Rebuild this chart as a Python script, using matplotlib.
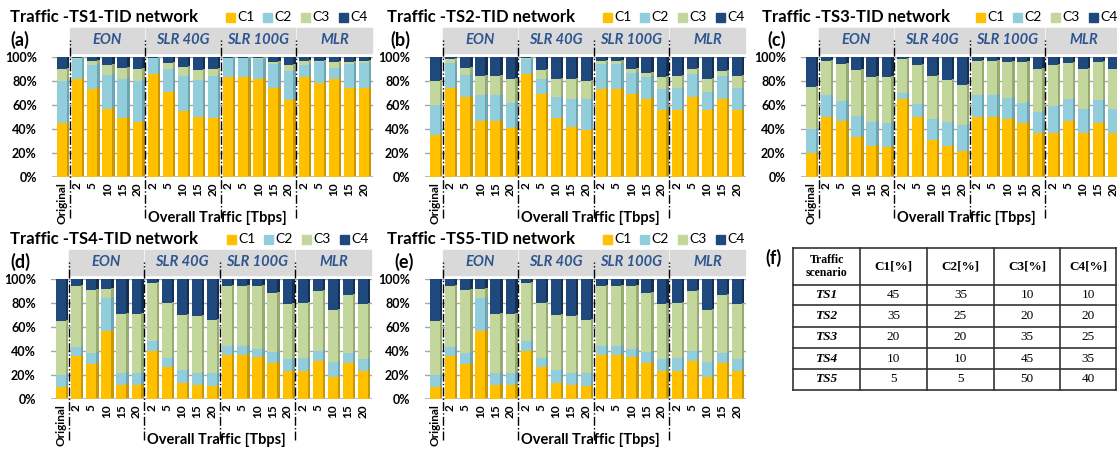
import matplotlib
matplotlib.use("Agg")
import matplotlib.pyplot as plt
from matplotlib.patches import Rectangle

plt.rcParams["font.family"] = ["Lato", "DejaVu Sans"]

# x categories
tick_labels = ["Original",
               "2", "5", "10", "15", "20",
               "2", "5", "10", "15", "20",
               "2", "5", "10", "15", "20",
               "2", "5", "10", "15", "20"]
groups = ["EON", "SLR 40G", "SLR 100G", "MLR"]
classes = ["C1", "C2", "C3", "C4"]

# TS1 shares [%]
ts1_c1 = [45, 82, 73, 57, 49, 46, 86, 71, 55, 50, 49, 83, 83, 82, 74, 64, 83, 78, 82, 74, 74]
ts1_c2 = [35, 16, 20, 28, 33, 34, 13, 19, 29, 31, 35, 16, 16, 16, 20, 24, 10, 18, 9, 20, 21]
ts1_c3 = [10, 1, 4, 8, 9, 10, 0, 5, 8, 8, 6, 0, 0, 1, 2, 5, 4, 1, 5, 2, 2]
ts1_c4 = [10, 1, 3, 7, 9, 10, 1, 5, 8, 11, 10, 1, 1, 1, 4, 7, 3, 3, 4, 4, 3]

# TS2
ts2_c1 = [35, 74, 67, 47, 47, 41, 86, 69, 49, 42, 39, 73, 73, 69, 65, 56, 56, 67, 56, 65, 56]
ts2_c2 = [25, 21, 18, 21, 21, 21, 12, 13, 18, 23, 26, 21, 21, 18, 18, 17, 18, 19, 15, 19, 18]
ts2_c3 = [20, 3, 6, 16, 16, 20, 1, 7, 15, 17, 15, 3, 3, 3, 4, 10, 10, 4, 11, 4, 10]
ts2_c4 = [20, 2, 9, 16, 16, 18, 1, 11, 18, 18, 20, 3, 3, 10, 13, 17, 16, 10, 18, 12, 16]

# TS3
ts3_c1 = [20, 50, 47, 33, 26, 25, 65, 50, 31, 26, 22, 50, 50, 48, 45, 37, 37, 47, 37, 45, 37]
ts3_c2 = [20, 18, 16, 18, 20, 20, 5, 11, 17, 20, 21, 18, 18, 18, 17, 17, 22, 18, 20, 19, 20]
ts3_c3 = [35, 29, 31, 38, 37, 38, 28, 32, 36, 35, 34, 29, 29, 30, 34, 36, 34, 30, 33, 32, 33]
ts3_c4 = [25, 3, 6, 11, 17, 17, 2, 7, 16, 19, 23, 3, 3, 4, 4, 10, 7, 5, 10, 4, 10]

# TS4
ts4_c1 = [10, 36, 29, 57, 12, 12, 40, 27, 13, 12, 11, 37, 37, 35, 30, 23, 23, 32, 18, 30, 23]
ts4_c2 = [10, 7, 9, 27, 10, 10, 8, 7, 11, 10, 11, 7, 7, 7, 9, 10, 11, 8, 13, 8, 10]
ts4_c3 = [45, 51, 53, 8, 49, 49, 49, 46, 46, 47, 44, 50, 50, 52, 49, 46, 46, 50, 43, 49, 46]
ts4_c4 = [35, 6, 9, 8, 29, 29, 3, 20, 30, 31, 34, 6, 6, 6, 12, 21, 20, 10, 26, 13, 21]

# TS5 (drawn the same as TS4 in the figure)
ts5_c1 = [10, 36, 29, 57, 12, 12, 40, 27, 13, 12, 11, 37, 37, 35, 30, 23, 23, 32, 18, 30, 23]
ts5_c2 = [10, 7, 9, 27, 10, 10, 8, 7, 11, 10, 11, 7, 7, 7, 9, 10, 11, 8, 13, 8, 10]
ts5_c3 = [45, 51, 53, 8, 49, 49, 49, 46, 46, 47, 44, 50, 50, 52, 49, 46, 46, 50, 43, 49, 46]
ts5_c4 = [35, 6, 9, 8, 29, 29, 3, 20, 30, 31, 34, 6, 6, 6, 12, 21, 20, 10, 26, 13, 21]

# table (f)
table_header = ["Traffic\nscenario", "C1[%]", "C2[%]", "C3[%]", "C4[%]"]
table_scen = ["TS1", "TS2", "TS3", "TS4", "TS5"]
table_c1 = [45, 35, 20, 10, 5]
table_c2 = [35, 25, 20, 10, 5]
table_c3 = [10, 20, 35, 45, 50]
table_c4 = [10, 20, 25, 35, 40]

front = ["#FFC000", "#92CDDC", "#C3D69B", "#1F497D"]
side = ["#C99700", "#6EA5B3", "#97AB6E", "#142F52"]
grp_color = "#2E5590"

W, H = 1117, 450
fig = plt.figure(figsize=(W / 100, H / 100), dpi=100)

# pixel-coordinate overlay for titles, legends and the table
ov = fig.add_axes([0, 0, 1, 1])
ov.set_xlim(0, W)
ov.set_ylim(H, 0)
ov.axis("off")
ov.patch.set_alpha(0)

sp = 15.1  # px between bars


def add_panel(vals, title, letter, cx0, y_zero, y_full, tx, lx, legx):
    left = cx0 - 0.66 * sp
    right = cx0 + 20.6 * sp
    ax = fig.add_axes([left / W, 1 - y_zero / H, (right - left) / W, (y_zero - y_full) / H])
    ax.set_xlim(-0.66, 20.6)
    ax.set_ylim(0, 100)
    ppu = (y_zero - y_full) / 100.0

    x = list(range(len(tick_labels)))
    bottom = [0] * len(x)
    for k, v in enumerate(vals):
        ax.bar(x, v, width=0.66, bottom=bottom, color=front[k], zorder=3, linewidth=0)
        # darker side face for the 3D look
        ax.bar([i + 0.41 for i in x], v, width=0.16, bottom=[b + 0.8 for b in bottom],
               color=side[k], zorder=2, linewidth=0)
        bottom = [b + h for b, h in zip(bottom, v)]

    ax.set_yticks([0, 20, 40, 60, 80, 100])
    ax.set_yticklabels([f"{t}%" for t in range(0, 101, 20)], fontsize=9, fontweight="bold")
    ax.set_xticks(x)
    ax.set_xticklabels(tick_labels, rotation=90, fontsize=8.5, fontweight="bold")
    ax.tick_params(length=0)
    ax.tick_params(axis="y", pad=11)
    ax.tick_params(axis="x", pad=4)
    ax.yaxis.grid(True, color="#A6A6A6", linewidth=1, zorder=0)
    for s in ax.spines.values():
        s.set_visible(False)
    ax.axhline(0, color="#BFBFBF", linewidth=1.5, zorder=1)

    # group header boxes and separators
    h_top = 29 / ppu + 100
    h_bot = 4 / ppu + 100
    edges = [0.5, 5.5, 10.5, 15.5, 20.6]
    for g in range(4):
        ax.add_patch(Rectangle((edges[g] + 0.06, h_bot), edges[g + 1] - edges[g] - 0.12,
                               h_top - h_bot, color="#D9D9D9", clip_on=False, zorder=1))
        ax.text((edges[g] + edges[g + 1]) / 2, (h_top + h_bot) / 2, groups[g],
                ha="center", va="center", fontsize=10.5, fontstyle="italic",
                fontweight="bold", color=grp_color, clip_on=False)
    for e in edges[:4]:
        ax.plot([e, e], [-41 / ppu, 100 + 17 / ppu], color="black", linestyle="-.",
                linewidth=1, clip_on=False, zorder=5)

    ax.text(10.3, -41 / ppu, "Overall Traffic [Tbps]", ha="center", va="center",
            fontsize=10.5, fontweight="bold")

    ov.text(tx, y_full - 40, title, ha="left", va="center", fontsize=12, fontweight="bold")
    ov.text(lx, y_full - 17, letter, ha="left", va="center", fontsize=13, fontweight="bold")
    for k, name in enumerate(classes):
        xx = legx + k * 37.7
        ov.add_patch(Rectangle((xx - 4.5, y_full - 44.5), 9, 9, color=front[k]))
        ov.text(xx + 7, y_full - 40, name, ha="left", va="center", fontsize=10)
    return ax


add_panel([ts1_c1, ts1_c2, ts1_c3, ts1_c4], "Traffic -TS1-TID network", "(a)",
          62, 177, 57, 10, 10, 230)
add_panel([ts2_c1, ts2_c2, ts2_c3, ts2_c4], "Traffic -TS2-TID network", "(b)",
          435, 177, 57, 387, 390, 607)
add_panel([ts3_c1, ts3_c2, ts3_c3, ts3_c4], "Traffic -TS3-TID network", "(c)",
          811, 177, 57, 762, 767, 980)
add_panel([ts4_c1, ts4_c2, ts4_c3, ts4_c4], "Traffic -TS4-TID network", "(d)",
          61, 399, 279, 10, 10, 231)
add_panel([ts5_c1, ts5_c2, ts5_c3, ts5_c4], "Traffic -TS5-TID network", "(e)",
          435, 399, 279, 387, 394, 607)

# table (f)
col_edges = [793, 860, 927, 994, 1060, 1116]
row_edges = [248, 285, 305, 327, 348, 369, 390]
for cx in col_edges:
    ov.plot([cx, cx], [row_edges[0], row_edges[-1]], color="#333333", linewidth=1.2)
for ry in row_edges:
    ov.plot([col_edges[0], col_edges[-1]], [ry, ry], color="#333333", linewidth=1.2)

serif = ["Liberation Serif", "DejaVu Serif"]
for j, head in enumerate(table_header):
    cx = (col_edges[j] + col_edges[j + 1]) / 2
    ov.text(cx, (row_edges[0] + row_edges[1]) / 2, head, ha="center", va="center",
            fontsize=8.5 if j == 0 else 9.5, fontweight="bold", family=serif,
            linespacing=1.1)
cols = [table_c1, table_c2, table_c3, table_c4]
for i, scen in enumerate(table_scen):
    cy = (row_edges[i + 1] + row_edges[i + 2]) / 2
    ov.text((col_edges[0] + col_edges[1]) / 2, cy, scen, ha="center", va="center",
            fontsize=9.5, fontweight="bold", fontstyle="italic", family=serif)
    for j, col in enumerate(cols):
        ov.text((col_edges[j + 1] + col_edges[j + 2]) / 2, cy, str(col[i]), ha="center",
                va="center", fontsize=9.5, family=serif)
ov.text(765, 258, "(f)", ha="left", va="center", fontsize=13, fontweight="bold")

fig.savefig("out.png", dpi=100)
